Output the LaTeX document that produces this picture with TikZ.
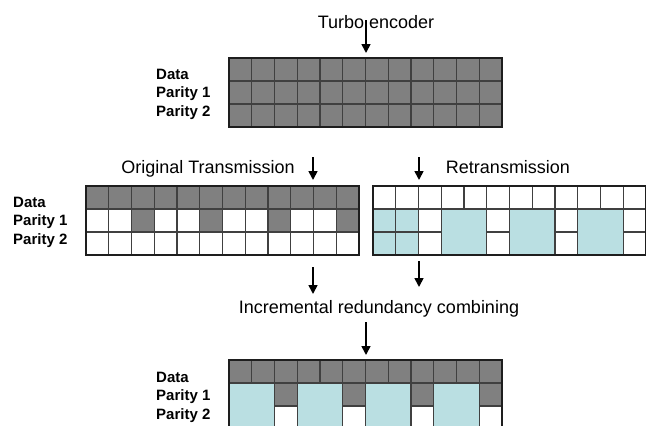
\documentclass[tikz,border=0pt]{standalone}
\usepackage{fontspec}
\setmainfont{Liberation Sans}
\usetikzlibrary{arrows.meta,positioning}
\definecolor{CellGray}{HTML}{808080}
\definecolor{CellBlue}{HTML}{BADFE2}
\definecolor{LineDark}{HTML}{1E1E1E}

\tikzset{
  frame/.style={draw=LineDark, line width=1.7pt},
  gridline/.style={draw=LineDark!85, line width=1.1pt},
  flow/.style={-{Triangle[length=9pt,width=9pt]}, line width=1.7pt},
  title/.style={font=\fontsize{18}{20}\selectfont, anchor=base, inner sep=0pt},
  rowlabel/.style={font=\bfseries\fontsize{15}{17}\selectfont, anchor=base west, inner sep=0pt}
}

\begin{document}
\begin{tikzpicture}[x=1pt, y=-1pt]
\useasboundingbox (0,0) rectangle (646,426);

% Titles
\node[title] (enc) at (376,28) {Turbo encoder};
\node[title] (orig) at (208,173) {Original Transmission};
\node[title] (retx) at (508,173) {Retransmission};
\node[title] (irc) at (379,313) {Incremental redundancy combining};

% Row labels
\foreach \nm/\lx/\ly in {top/156/79, mid/13/207, bot/156/382}
{
  \node[rowlabel] (\nm-data) at (\lx,\ly) {Data};
  \node[rowlabel] (\nm-p1) at (\lx,\ly+18.5) {Parity 1};
  \node[rowlabel] (\nm-p2) at (\lx,\ly+37) {Parity 2};
}

% Encoder output - all cells filled
\fill[CellGray] (229,58) rectangle (502,127);
\foreach \i in {1,...,11} \draw[gridline] ({229+\i*22.75},58) -- ++(0,69);
\foreach \j in {1,2} \draw[gridline] (229,{58+\j*23}) -- ++(273,0);
\draw[frame] (229,58) rectangle (502,127);

% Original transmission - punctured parity
\fill[CellGray] (86,186) rectangle (359,209);
\foreach \c in {2,5,8,11} \fill[CellGray] ({86+\c*22.75},209) rectangle ++(22.75,23);
\foreach \i in {1,...,11} \draw[gridline] ({86+\i*22.75},186) -- ++(0,69);
\foreach \j in {1,2} \draw[gridline] (86,{186+\j*23}) -- ++(273,0);
\draw[frame] (86,186) rectangle (359,255);

% Retransmission - complementary parity
\foreach \c in {0,3,6,9} \fill[CellBlue] ({373+\c*22.75},209) rectangle ++(45.5,46);
\foreach \i in {1,...,11} \draw[gridline] ({373+\i*22.75},186) -- ++(0,23);
\foreach \i in {1,2,3,5,6,8,9,11} \draw[gridline] ({373+\i*22.75},209) -- ++(0,46);
\draw[gridline] (373,209) -- ++(273,0);
\foreach \c/\n in {0/2,2/1,5/1,8/1,11/1} \draw[gridline] ({373+\c*22.75},232) -- ++({\n*22.75},0);
\draw[frame] (373,186) rectangle (646,255);

% Combined result
\fill[CellGray] (229,360) rectangle (502,383);
\foreach \c in {0,3,6,9} \fill[CellBlue] ({229+\c*22.75},383) rectangle ++(45.5,46);
\foreach \c in {2,5,8,11} \fill[CellGray] ({229+\c*22.75},383) rectangle ++(22.75,23);
\foreach \i in {1,...,11} \draw[gridline] ({229+\i*22.75},360) -- ++(0,23);
\foreach \i in {2,3,5,6,8,9,11} \draw[gridline] ({229+\i*22.75},383) -- ++(0,46);
\draw[gridline] (229,383) -- ++(273,0);
\foreach \c in {2,5,8,11} \draw[gridline] ({229+\c*22.75},406) -- ++(22.75,0);
\draw[frame] (229,360) rectangle (502,429);

% Arrow end points
\coordinate (enc-out) at (366,20);
\coordinate (top-in) at (366,53);
\coordinate (orig-in) at (313,157);
\coordinate (orig-top) at (313,180);
\coordinate (retx-in) at (419,157);
\coordinate (retx-top) at (419,180);
\coordinate (orig-out) at (313,267);
\coordinate (orig-down) at (313,294);
\coordinate (retx-out) at (419,261);
\coordinate (retx-down) at (419,287);
\coordinate (irc-out) at (366,322);
\coordinate (bot-in) at (366,355);

% Arrows
\draw[flow] (enc-out) -- (top-in);
\draw[flow] (orig-in) -- (orig-top);
\draw[flow] (retx-in) -- (retx-top);
\draw[flow] (orig-out) -- (orig-down);
\draw[flow] (retx-out) -- (retx-down);
\draw[flow] (irc-out) -- (bot-in);
\end{tikzpicture}
\end{document}
